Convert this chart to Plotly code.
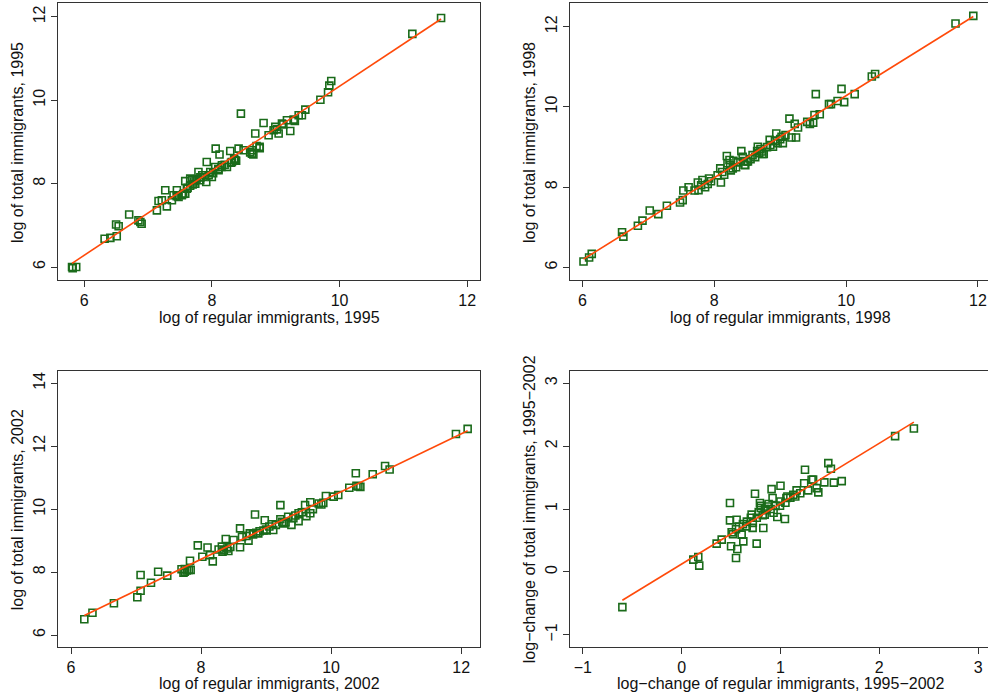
import numpy as np
import plotly.graph_objects as go

# ---------------- data ----------------
reg_1995 = [5.81, 5.875, 5.82, 6.32, 6.41, 6.51, 6.50, 6.54, 6.705, 6.85, 6.88, 6.90,
            7.139, 7.165, 7.217, 7.27, 7.295, 7.374, 7.40, 7.452, 7.478, 7.53, 7.583, 7.583,
            7.609, 7.661, 7.687, 7.74, 7.79, 7.818, 7.87, 7.912, 7.92, 7.975, 8.0, 8.053,
            8.06, 8.105, 8.12, 8.158, 8.236, 8.288, 8.314, 8.367, 8.419, 8.455, 8.497, 8.628,
            8.628, 8.68, 8.748, 8.81, 8.889, 8.967, 8.994, 9.046, 9.098, 9.176, 9.228, 9.281,
            9.36, 9.41, 9.464, 9.70, 9.82, 9.84, 9.87, 11.14, 11.59,
            7.45, 7.55, 7.62, 7.66, 7.70, 7.72, 7.76, 7.82, 7.85, 7.95, 8.02, 8.10, 8.15,
            8.20, 8.30, 8.35, 8.38, 8.60, 8.65, 8.70, 8.75, 9.02, 9.12, 9.30]
tot_1995 = [6.00, 6.00, 5.97, 6.68, 6.70, 6.74, 7.02, 6.98, 7.26, 7.12, 7.08, 7.04,
            7.36, 7.584, 7.60, 7.84, 7.456, 7.60, 7.72, 7.84, 7.68, 7.72, 7.76, 8.06,
            7.88, 8.12, 8.08, 8.00, 8.28, 8.08, 8.16, 8.04, 8.52, 8.28, 8.16, 8.40,
            8.84, 8.32, 8.70, 8.44, 8.40, 8.783, 8.52, 8.56, 8.84, 9.678, 8.80, 8.80,
            8.72, 9.20, 8.88, 9.454, 9.16, 9.28, 9.36, 9.20, 9.44, 9.52, 9.262, 9.534,
            9.638, 9.638, 9.774, 10.01, 10.19, 10.35, 10.46, 11.59, 11.97,
            7.70, 7.75, 7.90, 7.95, 7.98, 8.05, 8.10, 8.15, 8.20, 8.20, 8.25, 8.35, 8.40,
            8.45, 8.50, 8.60, 8.55, 8.75, 8.70, 8.90, 8.85, 9.30, 9.42, 9.50]

reg_1998 = [6.015, 6.10, 6.14, 6.60, 6.62, 6.84, 6.91, 7.02, 7.15, 7.28, 7.48, 7.52,
            7.53, 7.61, 7.70, 7.75, 7.76, 7.82, 7.86, 7.90, 7.92, 8.09, 8.10, 8.15,
            8.19, 8.20, 8.23, 8.28, 8.41, 8.43, 8.46, 8.51, 8.58, 8.66, 8.68, 8.73,
            8.84, 8.89, 8.94, 8.96, 9.02, 9.04, 9.14, 9.17, 9.22, 9.24, 9.27, 9.41,
            9.50, 9.52, 9.54, 9.60, 9.74, 9.77, 9.87, 9.93, 9.97, 10.13, 10.39, 10.44,
            11.66, 11.93,
            8.24, 8.29, 8.47, 8.49, 8.72, 8.75, 7.80, 7.95, 8.05, 8.12, 8.25, 8.33,
            8.36, 8.45, 8.55, 8.62, 8.65, 8.70, 8.80, 8.85, 8.92, 9.00, 9.08, 9.45]
tot_1998 = [6.15, 6.25, 6.34, 6.88, 6.77, 7.04, 7.17, 7.42, 7.33, 7.54, 7.62, 7.68,
            7.92, 8.00, 7.92, 8.12, 7.93, 8.18, 8.00, 8.08, 8.22, 8.47, 8.12, 8.31,
            8.78, 8.60, 8.68, 8.47, 8.90, 8.76, 8.56, 8.64, 8.80, 9.01, 8.85, 8.83,
            9.18, 9.01, 9.34, 9.10, 9.26, 9.10, 9.71, 9.24, 9.58, 9.24, 9.49, 9.63,
            9.61, 9.80, 10.32, 9.82, 10.07, 10.07, 10.15, 10.45, 10.12, 10.32, 10.76, 10.82,
            12.08, 12.27,
            8.55, 8.66, 8.55, 8.64, 8.89, 8.83, 8.05, 8.15, 8.30, 8.38, 8.42, 8.50,
            8.62, 8.65, 8.70, 8.75, 8.90, 8.95, 9.00, 9.05, 9.15, 9.20, 9.30, 9.58]

reg_2002 = [6.205, 6.33, 6.66, 7.02, 7.07, 7.07, 7.23, 7.34, 7.48, 7.70, 7.73, 7.75,
            7.81, 7.83, 7.84, 7.95, 8.02, 8.10, 8.14, 8.18, 8.27, 8.32, 8.33, 8.38,
            8.42, 8.50, 8.60, 8.60, 8.63, 8.73, 8.75, 8.83, 8.88, 8.96, 8.98, 9.01,
            9.09, 9.11, 9.22, 9.22, 9.27, 9.34, 9.39, 9.42, 9.50, 9.50, 9.60, 9.62,
            9.68, 9.68, 9.81, 9.88, 9.92, 10.04, 10.11, 10.28, 10.38, 10.39, 10.45, 10.64,
            10.83, 10.90, 11.92, 12.10,
            7.75, 7.78, 8.35, 8.40, 8.45, 8.70, 8.80, 8.85, 8.90, 9.00, 9.05, 9.15,
            9.25, 9.30, 9.45, 9.55, 9.72, 9.85, 10.42]
tot_2002 = [6.50, 6.71, 7.01, 7.20, 7.41, 7.91, 7.66, 8.01, 7.89, 8.09, 7.98, 8.01,
            8.07, 8.36, 8.07, 8.85, 8.49, 8.78, 8.54, 8.34, 8.72, 8.81, 8.65, 9.05,
            8.67, 9.02, 9.39, 8.79, 9.12, 9.00, 9.23, 9.83, 9.23, 9.32, 9.65, 9.32,
            9.52, 9.34, 10.13, 9.68, 9.55, 9.76, 9.50, 9.71, 9.87, 9.62, 10.13, 9.78,
            10.22, 9.87, 10.18, 10.20, 10.42, 10.40, 10.45, 10.68, 11.14, 10.74, 10.71, 11.11,
            11.37, 11.26, 12.39, 12.55,
            8.10, 8.05, 8.70, 8.75, 8.80, 9.15, 9.20, 9.25, 9.30, 9.35, 9.45, 9.50,
            9.60, 9.58, 9.80, 9.90, 10.00, 10.15, 10.72]

dreg = [-0.60, 0.118, 0.168, 0.178, 0.354, 0.405, 0.489, 0.489, 0.506, 0.50, 0.556, 0.55,
        0.563, 0.607, 0.624, 0.658, 0.708, 0.718, 0.742, 0.759, 0.792, 0.80, 0.826, 0.843,
        0.91, 0.92, 0.968, 0.995, 1.00, 1.045, 1.06, 1.13, 1.163, 1.248, 1.28, 1.315,
        1.366, 1.383, 1.444, 1.484, 1.51, 1.54, 1.62, 2.16, 2.35,
        0.52, 0.55, 0.58, 0.62, 0.66, 0.70, 0.78, 0.80, 0.85, 0.88, 0.90, 0.95,
        1.00, 1.05, 1.10, 1.15, 1.20, 0.72, 0.76, 0.82, 0.84, 0.87, 0.93, 1.07, 1.24, 1.33]
dtot = [-0.56, 0.195, 0.237, 0.10, 0.449, 0.513, 1.095, 0.82, 0.63, 0.407, 0.83, 0.22,
        0.364, 0.592, 0.486, 0.724, 0.91, 0.70, 1.243, 0.45, 1.095, 1.015, 0.698, 1.00,
        1.317, 1.174, 0.872, 1.052, 1.37, 0.84, 1.174, 1.227, 1.296, 1.624, 1.296, 1.465,
        1.333, 1.264, 1.423, 1.73, 1.64, 1.42, 1.444, 2.16, 2.28,
        0.60, 0.68, 0.72, 0.76, 0.80, 0.86, 0.95, 1.05, 0.98, 1.08, 1.00, 1.05,
        1.12, 1.10, 1.18, 1.20, 1.25, 0.78, 0.86, 0.90, 0.91, 1.04, 0.94, 1.20, 1.41, 1.47]

x_titles = ["log of regular immigrants, 1995", "log of regular immigrants, 1998",
            "log of regular immigrants, 2002", "log\u2212change of regular immigrants, 1995\u22122002"]
y_titles = ["log of total immigrants, 1995", "log of total immigrants, 1998",
            "log of total immigrants, 2002", "log\u2212change of total immigrants, 1995\u22122002"]

x_ticks = [[6, 8, 10, 12], [6, 8, 10, 12], [6, 8, 10, 12], [-1, 0, 1, 2, 3]]
y_ticks = [[6, 8, 10, 12], [6, 8, 10, 12], [6, 8, 10, 12, 14], [-1, 0, 1, 2, 3]]
x_ranges = [[5.59, 12.2], [5.81, 12.153], [5.8, 12.29], [-1.13, 3.10]]
y_ranges = [[5.69, 12.33], [5.69, 12.59], [5.63, 14.4], [-1.19, 3.2]]

# ---------------- figure ----------------
W, H = 988, 699
GREEN = "#1a6b1a"
ORANGE = "#ff4a0a"
FONT = "Liberation Sans, Arial, sans-serif"

panels = [(reg_1995, tot_1995), (reg_1998, tot_1998), (reg_2002, tot_2002), (dreg, dtot)]
# pixel boxes: left, right, top, bottom
boxes = [(58, 480, 3, 280), (570, 988, 3, 280), (58, 480, 370.7, 646.7), (570, 988, 370.7, 646.7)]

fig = go.Figure()
layout = dict(width=W, height=H, margin=dict(l=0, r=0, t=0, b=0),
              paper_bgcolor="white", plot_bgcolor="white", showlegend=False,
              font=dict(family=FONT, size=16, color="#111"))
annotations = []

for i, ((xs, ys), (l, r, t, b)) in enumerate(zip(panels, boxes)):
    n = "" if i == 0 else str(i + 1)
    xa, ya = "x" + n, "y" + n
    xs_a, ys_a = np.array(xs), np.array(ys)
    fig.add_trace(go.Scatter(x=xs, y=ys, mode="markers", xaxis=xa, yaxis=ya,
                             marker=dict(symbol="square-open", size=7, color=GREEN,
                                         line=dict(width=1.6, color=GREEN))))
    slope, inter = np.polyfit(xs_a, ys_a, 1)
    fx = np.array([xs_a.min(), xs_a.max()])
    fig.add_trace(go.Scatter(x=fx, y=inter + slope * fx, mode="lines", xaxis=xa, yaxis=ya,
                             line=dict(color=ORANGE, width=1.6)))
    right_open = (r >= W)
    layout["xaxis" + n] = dict(domain=[l / W, min(r / W, 1.0)], range=x_ranges[i], anchor=ya,
                               tickvals=x_ticks[i], ticks="outside", ticklen=6, tickwidth=1,
                               tickcolor="#333", showline=True, linecolor="#333", linewidth=1.2,
                               mirror=True, showgrid=False, zeroline=False,
                               tickfont=dict(size=16, color="#111"))
    layout["yaxis" + n] = dict(domain=[1 - b / H, 1 - t / H], range=y_ranges[i], anchor=xa,
                               tickvals=y_ticks[i], ticks="outside", ticklen=6, tickwidth=1,
                               tickcolor="#333", showline=True, linecolor="#333", linewidth=1.2,
                               mirror=not right_open, showgrid=False, zeroline=False,
                               tickangle=-90, tickfont=dict(size=16, color="#111"))
    cx = (l + (990 if right_open else r)) / 2
    annotations.append(dict(text=x_titles[i], xref="paper", yref="paper",
                            x=cx / W, y=1 - (b + 37) / H, showarrow=False,
                            xanchor="center", yanchor="middle",
                            font=dict(size=16, color="#111")))
    annotations.append(dict(text=y_titles[i], xref="paper", yref="paper",
                            x=(l - 40.5) / W, y=1 - ((t + b) / 2 + 1) / H, showarrow=False,
                            textangle=-90, xanchor="center", yanchor="middle",
                            font=dict(size=16, color="#111")))

layout["annotations"] = annotations
fig.update_layout(**layout)
fig.write_html("out.html")
